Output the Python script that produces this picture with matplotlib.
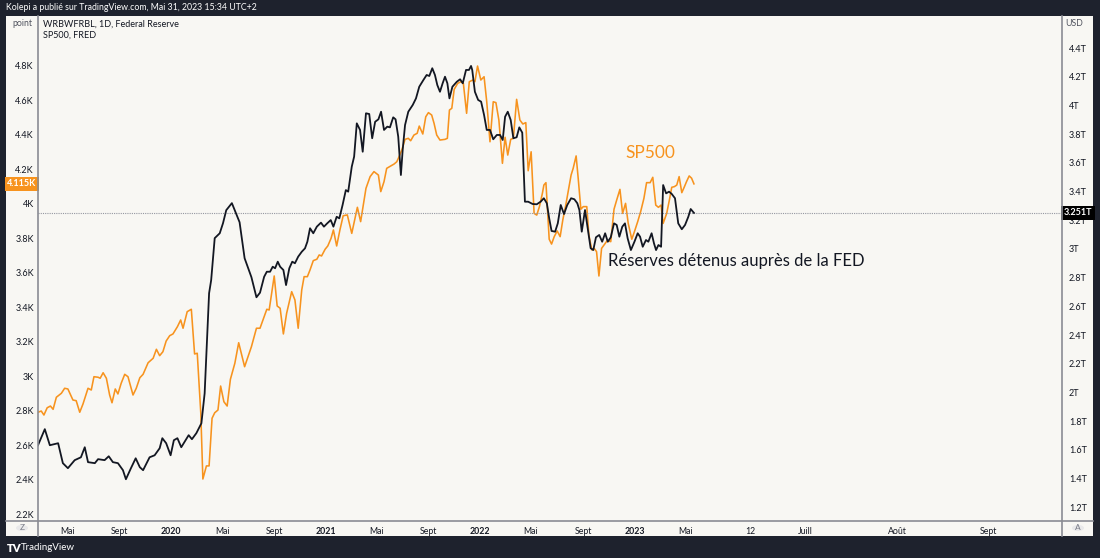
import matplotlib
matplotlib.use("Agg")
import matplotlib.pyplot as plt
import matplotlib.transforms as mtransforms
from matplotlib.patches import Rectangle, Circle
from matplotlib.lines import Line2D
from datetime import date

# ---------------- data (x = weeks since START) ----------------
START = date(2019, 2, 20)

RES_WEEKS = [0.0, 2.3, 4.0, 6.8, 8.4, 10.1, 12.4, 14.5, 15.8, 16.9, 19.2, 20.3, 22.5, 23.9, 25.3, 27.0, 28.7, 29.7,
             31.4, 33.0, 34.4, 35.5, 37.7, 39.4, 41.1, 42.0, 43.3, 44.8, 45.9, 47.1, 48.4, 50.9, 52.0, 53.5, 55.2,
             56.3, 57.8, 58.5, 59.7, 61.4, 62.5, 63.6, 65.5, 68.1, 69.8, 72.1, 73.8,
             75.0, 76.4, 77.3, 78.4, 79.3, 80.1, 81.0, 81.8, 82.9, 83.8, 84.9, 85.9, 86.8, 87.9, 89.1, 90.2, 91.0,
             91.9, 93.0, 94.2, 95.6, 96.6, 97.7, 98.9, 99.8, 100.9, 101.8, 102.9, 104.0, 104.8, 106.0, 106.8, 107.7,
             108.8, 109.7, 110.8, 111.9, 112.9, 113.9, 115.0, 115.9, 116.9, 118.0, 118.9, 120.0, 120.8, 121.7,
             122.6, 123.2, 124.0, 125.1, 126.6, 127.7, 128.8, 130.2, 131.3, 132.2, 133.2, 134.1, 134.9, 135.8,
             136.7, 137.5, 138.3, 139.0, 140.0, 141.5, 142.6, 143.5, 144.6, 145.6, 146.3, 146.7, 147.6, 148.7,
             149.7, 150.7, 151.6,
             152.7, 153.8, 155.0, 156.1, 157.0, 157.8, 158.7, 159.7, 160.6, 161.7, 162.6, 163.6, 164.5, 165.6,
             167.1, 168.5, 169.8, 170.9, 171.9, 172.7, 173.5, 174.7, 175.6, 176.6, 177.7, 178.8, 180.1, 181.2,
             182.2, 182.9, 183.7, 184.8, 185.7, 186.7, 187.6, 188.5, 189.6, 190.6, 191.6, 192.5, 193.5, 194.6,
             195.5, 196.4, 197.4, 198.3, 199.2, 200.3, 201.5, 202.6, 203.4, 204.3, 205.4, 206.2, 207.3, 208.1,
             208.8, 209.6, 210.5, 211.2, 212.2, 213.2, 214.1, 215.2, 216.3, 217.5, 218.6, 219.7, 220.5, 221.6]
RES_TRILLION = [1.632, 1.744, 1.632, 1.646, 1.507, 1.472, 1.528, 1.548, 1.618, 1.514, 1.507, 1.535, 1.528, 1.555,
                1.514, 1.507, 1.458, 1.395, 1.472, 1.541, 1.479, 1.458, 1.548, 1.562, 1.611, 1.681, 1.646, 1.562,
                1.667, 1.681, 1.618, 1.702, 1.674, 1.716, 1.785, 1.994, 2.691, 2.782, 3.075, 3.109, 3.179, 3.270,
                3.319, 3.186, 2.935, 2.803, 2.663,
                2.695, 2.806, 2.841, 2.841, 2.876, 2.865, 2.911, 2.876, 2.853, 2.748, 2.865, 2.911, 2.900, 2.946,
                2.980, 3.004, 3.050, 3.144, 3.109, 3.155, 3.183, 3.155, 3.178, 3.201, 3.155, 3.224, 3.213, 3.306,
                3.410, 3.399, 3.573, 3.643, 3.875, 3.829, 3.677, 3.945, 3.940, 3.771, 3.886, 3.903, 3.956, 3.829,
                3.852, 3.847, 3.917, 3.903, 3.782, 3.515, 3.689, 3.863, 3.956, 4.003, 4.049, 4.130, 4.177, 4.212,
                4.205, 4.259, 4.212, 4.142, 4.095, 4.154, 4.200, 4.154, 4.049, 4.130, 4.165, 4.182, 4.154, 4.247,
                4.247, 4.275, 4.247, 4.095, 4.038, 4.026, 3.933, 3.829,
                3.829, 3.764, 3.794, 3.794, 3.759, 3.921, 3.956, 3.898, 3.771, 3.778, 3.847, 3.810, 3.329, 3.329,
                3.313, 3.311, 3.329, 3.353, 3.318, 3.213, 3.125, 3.120, 3.178, 3.306, 3.243, 3.306, 3.353, 3.346,
                3.318, 3.271, 3.120, 3.271, 3.144, 3.005, 2.992, 3.081, 3.097, 3.050, 3.109, 3.050, 3.081, 3.178,
                3.167, 3.085, 3.155, 3.178, 3.074, 2.992, 3.050, 3.109, 3.085, 3.015, 3.062, 3.050, 3.109, 3.039,
                2.992, 3.027, 3.015, 3.445, 3.387, 3.399, 3.383, 3.353, 3.178, 3.137, 3.167, 3.224, 3.278, 3.251]

SPX_WEEKS = [0.0, 1.1, 2.0, 3.1, 4.2, 5.1, 6.2, 7.9, 9.0, 10.1, 11.8, 12.9, 14.1, 15.2, 16.9, 18.0, 18.9, 20.3, 21.0,
             22.0, 23.1, 24.2, 25.0, 26.1, 27.0, 28.1, 29.3, 30.4, 32.1, 33.2, 34.4, 35.5, 37.2, 38.9, 40.0, 41.1,
             42.2, 43.3, 44.5, 45.6, 47.1, 48.2, 49.0, 50.4, 51.8, 52.9, 53.8, 55.0, 55.7, 56.9, 57.8, 58.8, 59.7,
             60.8, 61.7, 62.8, 63.9, 65.0, 66.5, 67.8, 69.8, 72.1, 73.8,
             75.0, 76.4, 77.3, 78.1, 79.8, 80.8, 81.8, 82.9, 84.0, 85.7, 86.8, 87.9, 89.1, 89.9, 91.0, 91.9, 93.0,
             94.2, 95.0, 95.8, 97.0, 97.9, 99.0, 99.8, 100.9, 102.0, 103.1, 104.5, 106.0, 107.9, 109.0, 110.8,
             112.2, 113.5, 115.0, 115.8, 116.9, 117.8, 119.2, 120.3, 121.2, 122.1, 122.9, 124.0, 125.1, 125.9,
             127.0, 128.1, 128.8, 130.0, 131.0, 131.9, 133.0, 133.8, 134.7, 135.8, 137.5, 138.3, 139.0, 139.8,
             140.6, 141.8, 142.9, 143.7, 144.8, 145.7, 146.9, 147.6, 148.5, 149.6, 150.7, 151.6,
             152.7, 153.8, 154.7, 155.7, 156.9, 157.8, 158.7, 159.7, 160.6, 161.7, 162.8, 163.8, 164.8, 165.6,
             166.6, 167.6, 168.5, 169.4, 170.4, 170.9, 171.6, 172.7, 173.5, 174.4, 175.4, 176.4, 177.3, 178.3,
             179.2, 180.1, 180.8, 181.8, 182.5, 183.4, 184.2, 185.4, 186.1, 187.1, 187.9, 188.7, 189.5, 190.4,
             191.6, 192.3, 193.5, 194.6, 195.5, 196.6, 197.5, 198.5, 199.4, 200.6, 201.5, 202.6, 203.6, 204.7,
             205.6, 206.8, 207.7, 208.7, 209.6, 210.5, 211.2, 212.4, 213.3, 214.1, 215.0, 215.8, 216.6, 217.5,
             218.3, 219.1, 220.0, 220.8, 221.6]
SPX_POINTS = [2791, 2798, 2775, 2817, 2827, 2808, 2878, 2901, 2930, 2926, 2862, 2858, 2791, 2839, 2930, 2920, 2997,
              2994, 2988, 3020, 2988, 2891, 2846, 2926, 2897, 2959, 3011, 2997, 2891, 2930, 2991, 3011, 3078, 3104,
              3156, 3119, 3142, 3204, 3235, 3245, 3287, 3326, 3278, 3374, 3388, 3129, 3133, 2785, 2404, 2480, 2480,
              2756, 2788, 2804, 2943, 2852, 2827, 2982, 3075, 3194, 3055, 3171, 3278,
              3278, 3345, 3388, 3384, 3581, 3407, 3394, 3245, 3365, 3490, 3442, 3278, 3500, 3577, 3577, 3616, 3670,
              3678, 3703, 3697, 3736, 3755, 3799, 3848, 3755, 3848, 3930, 3935, 3828, 3979, 3896, 4089, 4157, 4186,
              4166, 4070, 4128, 4205, 4219, 4230, 4243, 4277, 4311, 4373, 4379, 4365, 4398, 4408, 4450, 4404, 4504,
              4528, 4514, 4466, 4398, 4369, 4373, 4379, 4543, 4553, 4663, 4698, 4707, 4698, 4524, 4707, 4717, 4707,
              4798, 4717, 4736, 4591,
              4359, 4591, 4586, 4485, 4234, 4385, 4282, 4373, 4379, 4605, 4485, 4462, 4470, 4191, 4301, 3944, 3934,
              3983, 4060, 4108, 4122, 3794, 3766, 3809, 3842, 3809, 3906, 3992, 4079, 4166, 4205, 4277, 4147, 3968,
              3983, 3983, 3819, 3732, 3741, 3722, 3581, 3741, 3770, 3786, 3780, 3968, 4021, 4083, 3944, 4002, 3886,
              3794, 3838, 3896, 3954, 4031, 4122, 4122, 4153, 3992, 3979, 3992, 3886, 3944, 4021, 4095, 4099, 4108,
              4157, 4064, 4095, 4128, 4161, 4148, 4115]

LEFT_TICKS = [2200, 2400, 2600, 2800, 3000, 3200, 3400, 3600, 3800, 4000, 4200, 4400, 4600, 4800]
LEFT_LABELS = ["2.2K", "2.4K", "2.6K", "2.8K", "3K", "3.2K", "3.4K", "3.6K", "3.8K", "4K", "4.2K", "4.4K",
               "4.6K", "4.8K"]
RIGHT_TICKS = [1.2, 1.4, 1.6, 1.8, 2.0, 2.2, 2.4, 2.6, 2.8, 3.0, 3.2, 3.4, 3.6, 3.8, 4.0, 4.2, 4.4]
RIGHT_LABELS = ["1.2T", "1.4T", "1.6T", "1.8T", "2T", "2.2T", "2.4T", "2.6T", "2.8T", "3T", "3.2T", "3.4T",
                "3.6T", "3.8T", "4T", "4.2T", "4.4T"]
TIME_TICK_DATES = [date(2019, 5, 1), date(2019, 9, 1), date(2020, 1, 1), date(2020, 5, 1), date(2020, 9, 1),
                   date(2021, 1, 1), date(2021, 5, 1), date(2021, 9, 1), date(2022, 1, 1), date(2022, 5, 1),
                   date(2022, 9, 1), date(2023, 1, 1), date(2023, 5, 1)]
TIME_TICK_LABELS = ["Mai", "Sept", "2020", "Mai", "Sept", "2021", "Mai", "Sept", "2022", "Mai", "Sept", "2023", "Mai"]
FUTURE_TICK_LABELS = ["12", "Juill", "Août", "Sept"]
SPX_LAST = 4115
RES_LAST = 3.251

# ---------------- layout / style ----------------
W, H = 1100, 558
DARK = "#1e222d"
PANEL = "#f8f7f3"
ORANGE = "#f7931e"
LINEC = "#131722"
SEP = "#8a8c93"
TXT = "#131722"
FONT = ["Lato", "DejaVu Sans"]
plt.rcParams["font.family"] = FONT


def fx(px):
    return px / W


def fy(py):
    return 1 - py / H


fig = plt.figure(figsize=(W / 100, H / 100), dpi=100, facecolor=DARK)

# light panel
fig.add_artist(Rectangle((fx(6), fy(536)), fx(1093) - fx(6), fy(16) - fy(536), transform=fig.transFigure,
                         facecolor=PANEL, edgecolor="none", zorder=0))

ax = fig.add_axes([fx(38), fy(521), fx(1062) - fx(38), fy(16) - fy(521)])
ax.set_facecolor(PANEL)
ax2 = ax.twinx()

PX_PER_WEEK = 2.96
ax.set_xlim(0, (1062 - 38) / PX_PER_WEEK)
ax.set_ylim(2160.6, 5088.1)
ax2.set_ylim(1.104, 4.623)

ax.plot(SPX_WEEKS, SPX_POINTS, color=ORANGE, lw=1.15, zorder=3, solid_joinstyle="round")
ax2.plot(RES_WEEKS, RES_TRILLION, color=LINEC, lw=1.3, zorder=4, solid_joinstyle="round")
ax2.axhline(RES_LAST, color="#9598a1", lw=0.8, ls=(0, (1, 1)), zorder=2)

for a in (ax, ax2):
    for s in a.spines.values():
        s.set_visible(False)

ax.set_yticks(LEFT_TICKS)
ax.set_yticklabels(LEFT_LABELS)
ax.tick_params(axis="y", length=0, pad=3, labelsize=6.5, labelcolor=TXT)
ax2.set_yticks(RIGHT_TICKS)
ax2.set_yticklabels(RIGHT_LABELS)
ax2.tick_params(axis="y", length=0, pad=5, labelsize=6.5, labelcolor=TXT)

past_pos = [(d - START).days / 7 for d in TIME_TICK_DATES]
future_pos = [(px - 38) / PX_PER_WEEK for px in (750, 805, 897, 988)]
ax.set_xticks(past_pos + future_pos)
ax.set_xticklabels(TIME_TICK_LABELS + FUTURE_TICK_LABELS)
ax.tick_params(axis="x", length=0, pad=4, labelsize=6.3, labelcolor=TXT)
for lbl in ax.get_xticklabels():
    if lbl.get_text().isdigit() and len(lbl.get_text()) == 4:
        lbl.set_fontweight("bold")

# separators
for (x0, y0, x1, y1) in [(38, 16, 38, 536), (1062, 16, 1062, 536), (6, 521, 1093, 521)]:
    fig.add_artist(Line2D([fx(x0), fx(x1)], [fy(y0), fy(y1)], transform=fig.transFigure, color=SEP, lw=1.2,
                          zorder=5))

# price tags
tl = mtransforms.blended_transform_factory(ax.transAxes, ax.transData)
ax.text(-0.0015, SPX_LAST, "4.115K", transform=tl, ha="right", va="center", fontsize=6.5, color="white",
        fontweight="bold", clip_on=False, zorder=10,
        bbox=dict(boxstyle="square,pad=0.3", fc=ORANGE, ec="none"))
tr = mtransforms.blended_transform_factory(ax2.transAxes, ax2.transData)
ax2.text(0.0015 + 1.0, RES_LAST, "3.251T", transform=tr, ha="left", va="center", fontsize=6.5, color="white",
         fontweight="bold", clip_on=False, zorder=10,
         bbox=dict(boxstyle="square,pad=0.3", fc="#000000", ec="none"))

# header / footer / legends
fig.text(fx(6), fy(8), "Kolepi a publié sur TradingView.com, Mai 31, 2023 15:34 UTC+2", color="white",
         fontsize=6.3, va="center", ha="left")
fig.text(fx(7), fy(548), "TV", color="white", fontsize=8, fontweight="heavy", va="center", ha="left")
fig.text(fx(21), fy(548), "TradingView", color="white", fontsize=7, va="center", ha="left")
fig.text(fx(43), fy(24), "WRBWFRBL, 1D, Federal Reserve", color=TXT, fontsize=6.5, va="center", ha="left")
fig.text(fx(43), fy(35), "SP500, FRED", color=TXT, fontsize=6.5, va="center", ha="left")
fig.text(fx(22), fy(24), "point", color="#50535e", fontsize=6.3, va="center", ha="center")
fig.text(fx(1074), fy(23), "USD", color="#50535e", fontsize=6.3, va="center", ha="center")

for cx, letter in [(22, "Z"), (1078, "A")]:
    fig.add_artist(Circle((fx(cx), fy(528)), 6 / W, transform=fig.transFigure, facecolor="#e9e9ea",
                          edgecolor="none", zorder=6))
    fig.text(fx(cx), fy(528), letter, color="#787b86", fontsize=6, va="center", ha="center", zorder=7)

# annotations
fig.text(fx(650), fy(153), "SP500", color=ORANGE, fontsize=12.5, va="center", ha="center")
fig.text(fx(608), fy(261), "Réserves détenus auprès de la FED", color=TXT, fontsize=12, va="center", ha="left")

fig.savefig("out.png", dpi=100, facecolor=DARK)
